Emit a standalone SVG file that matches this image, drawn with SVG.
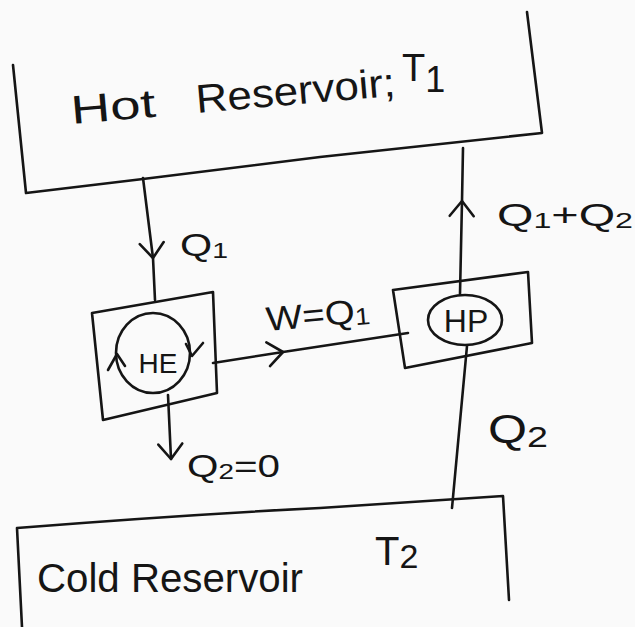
<svg xmlns="http://www.w3.org/2000/svg" width="635" height="627" viewBox="0 0 635 627">
<style>
.ln{fill:none;stroke:#151515;stroke-width:2.6;stroke-linecap:round;stroke-linejoin:round}
.t{font-family:"Liberation Sans","DejaVu Sans",sans-serif;fill:#151515}
</style>
<defs>
<marker id="v" markerUnits="userSpaceOnUse" markerWidth="40" markerHeight="40" viewBox="-20 -20 40 40" refX="0" refY="0" orient="auto">
<path d="M-15,-12 L0,0 L-15,12" fill="none" stroke="#151515" stroke-width="2.6" stroke-linecap="round" stroke-linejoin="round"/>
</marker>
</defs>
<rect width="635" height="627" fill="#fafafa"/>

<g id="hot-reservoir">
<path class="ln" d="M13,65 L26,193 L143,179 L320,157 L542,133 L527,12"/>
<g transform="rotate(-5 72 124)">
<text class="t" x="72" y="124" font-size="40" textLength="85" lengthAdjust="spacingAndGlyphs">Hot</text>
</g>
<g transform="rotate(-5 197 113)">
<text class="t" x="197" y="113" font-size="40" textLength="200" lengthAdjust="spacingAndGlyphs">Reservoir;</text>
</g>
<text class="t" x="402" y="81" font-size="38">T<tspan font-size="36" dy="11">1</tspan></text>
</g>

<g id="cold-reservoir">
<path class="ln" d="M22,627 L17,528 Q180,515 320,508 L503,496 L509,600"/>
<text class="t" x="37" y="592" font-size="40" textLength="266" lengthAdjust="spacingAndGlyphs">Cold Reservoir</text>
<text class="t" x="375" y="565" font-size="40">T<tspan font-size="34" dy="3">2</tspan></text>
</g>

<g id="heat-engine">
<path class="ln" d="M92,313 L213,292 L217,393 L103,420 Z"/>
<ellipse class="ln" cx="153" cy="353" rx="37" ry="40"/>
<path class="ln" d="M108,370 L117,354 L125,366"/>
<path class="ln" d="M186,344 L192,356 L203,343"/>
<text class="t" x="158" y="373" font-size="28" text-anchor="middle">HE</text>
</g>

<g id="heat-pump">
<path class="ln" d="M393,290 L528,272 L532,343 L405,368 Z"/>
<ellipse class="ln" cx="465" cy="320" rx="37" ry="25"/>
<text class="t" x="466" y="332" font-size="32" text-anchor="middle">HP</text>
</g>

<g id="connectors">
<path class="ln" d="M143,178 L153,258 L155,300" marker-mid="url(#v)"/>
<path class="ln" d="M168,395 L171,459" marker-end="url(#v)"/>
<path class="ln" d="M213,363 L283,352 L408,333" marker-mid="url(#v)"/>
<path class="ln" d="M460,294 L462,201 L463,148" marker-mid="url(#v)"/>
<path class="ln" d="M467,346 L452,508"/>
</g>

<g id="labels">
<text class="t" x="180" y="256" font-size="32" textLength="48" lengthAdjust="spacingAndGlyphs">Q<tspan font-size="22" dy="2">1</tspan></text>
<g transform="rotate(-5 267 331)">
<text class="t" x="267" y="331" font-size="34" textLength="104" lengthAdjust="spacingAndGlyphs">W=Q<tspan font-size="24" dy="2">1</tspan></text>
</g>
<text class="t" x="187" y="477" font-size="32" textLength="93" lengthAdjust="spacingAndGlyphs">Q<tspan font-size="22" dy="2">2</tspan><tspan dy="-2">=0</tspan></text>
<text class="t" x="497" y="226" font-size="32" textLength="136" lengthAdjust="spacingAndGlyphs">Q<tspan font-size="22" dy="2">1</tspan><tspan dy="-2">+</tspan>Q<tspan font-size="22" dy="2">2</tspan></text>
<text class="t" x="488" y="443" font-size="40" textLength="60" lengthAdjust="spacingAndGlyphs">Q<tspan font-size="30" dy="4">2</tspan></text>
</g>
</svg>
